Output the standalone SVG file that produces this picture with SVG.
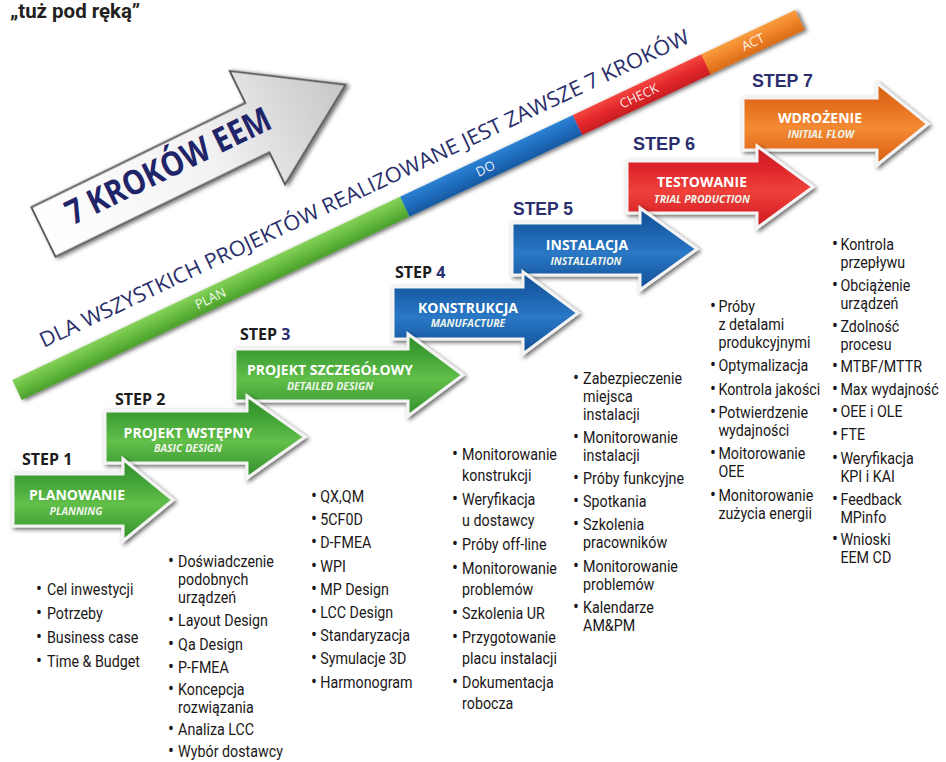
<svg xmlns="http://www.w3.org/2000/svg" width="946" height="762" viewBox="0 0 946 762">
  <defs>
    <style>
      .step-label{font-family:"Open Sans","Liberation Sans",sans-serif;font-weight:700;font-size:16px;fill:#1c1c1c}
      .step-num{fill:#2b2f70}
      .step-label-b{font-family:"Liberation Sans",Arial,sans-serif;font-weight:700;font-size:19px;fill:#2b2f70}
      .title{font-family:"Open Sans","Liberation Sans",sans-serif;font-weight:700;font-size:14px;fill:#ffffff;text-anchor:middle}
      .sub{font-family:"Open Sans","Liberation Sans",sans-serif;font-weight:700;font-style:italic;font-size:10.5px;fill:#eef5ea;text-anchor:middle}
      .list text{font-family:Roboto,"Liberation Sans",sans-serif;font-size:17px;fill:#1a1718}
      .list .b{font-size:21px}
      .bar-label{font-family:"Open Sans","Liberation Sans",sans-serif;font-size:13px;fill:#ffffff;fill-opacity:0.92;text-anchor:middle}
      .step-shape{stroke:#f4f4f4;stroke-width:3;stroke-linejoin:miter;filter:url(#shadow)}
      .headline{font-family:Roboto,"Liberation Sans",sans-serif;font-weight:700;font-size:20px;fill:#231f20}
    </style>
    <filter id="shadow" x="-15%" y="-25%" width="135%" height="160%">
      <feGaussianBlur in="SourceAlpha" stdDeviation="2.2"/>
      <feOffset dx="2" dy="2" result="blur"/>
      <feFlood flood-color="#000000" flood-opacity="0.6"/>
      <feComposite in2="blur" operator="in"/>
      <feMerge><feMergeNode/><feMergeNode in="SourceGraphic"/></feMerge>
    </filter>
    <linearGradient id="g-green" x1="0" y1="0" x2="0" y2="1">
      <stop offset="0" stop-color="#2f8c27"/>
      <stop offset="0.25" stop-color="#3fa135"/>
      <stop offset="0.55" stop-color="#62bf4a"/>
      <stop offset="0.85" stop-color="#41a035"/>
      <stop offset="1" stop-color="#2e8a26"/>
    </linearGradient>
    <linearGradient id="g-blue" x1="0" y1="0" x2="0" y2="1">
      <stop offset="0" stop-color="#134e94"/>
      <stop offset="0.25" stop-color="#1a5fa9"/>
      <stop offset="0.55" stop-color="#2a78c6"/>
      <stop offset="0.85" stop-color="#1a5ca4"/>
      <stop offset="1" stop-color="#144e93"/>
    </linearGradient>
    <linearGradient id="g-red" x1="0" y1="0" x2="0" y2="1">
      <stop offset="0" stop-color="#c81c22"/>
      <stop offset="0.25" stop-color="#dc242a"/>
      <stop offset="0.55" stop-color="#f0413a"/>
      <stop offset="0.85" stop-color="#da2428"/>
      <stop offset="1" stop-color="#c41b21"/>
    </linearGradient>
    <linearGradient id="g-orange" x1="0" y1="0" x2="0" y2="1">
      <stop offset="0" stop-color="#d45f16"/>
      <stop offset="0.25" stop-color="#e36d1c"/>
      <stop offset="0.55" stop-color="#f48a33"/>
      <stop offset="0.85" stop-color="#e26b1b"/>
      <stop offset="1" stop-color="#d05c15"/>
    </linearGradient>
    <linearGradient id="bar-green" x1="0" y1="0" x2="0" y2="1">
      <stop offset="0" stop-color="#86d15a"/>
      <stop offset="0.5" stop-color="#66bc3e"/>
      <stop offset="1" stop-color="#4b9f2d"/>
    </linearGradient>
    <linearGradient id="bar-blue" x1="0" y1="0" x2="0" y2="1">
      <stop offset="0" stop-color="#2c82d2"/>
      <stop offset="0.5" stop-color="#1f6dbe"/>
      <stop offset="1" stop-color="#175aa2"/>
    </linearGradient>
    <linearGradient id="bar-red" x1="0" y1="0" x2="0" y2="1">
      <stop offset="0" stop-color="#f2473f"/>
      <stop offset="0.5" stop-color="#e4272b"/>
      <stop offset="1" stop-color="#c81e22"/>
    </linearGradient>
    <linearGradient id="bar-orange" x1="0" y1="0" x2="0" y2="1">
      <stop offset="0" stop-color="#f89d40"/>
      <stop offset="0.5" stop-color="#ef8328"/>
      <stop offset="1" stop-color="#d96c18"/>
    </linearGradient>
    <linearGradient id="white-arrow" x1="0" y1="0" x2="1" y2="0">
      <stop offset="0" stop-color="#ffffff"/>
      <stop offset="0.55" stop-color="#f2f2f2"/>
      <stop offset="1" stop-color="#c6c6c6"/>
    </linearGradient>
  </defs>

  <rect width="946" height="762" fill="#ffffff"/>

  <text class="headline" x="10" y="18" textLength="130" lengthAdjust="spacingAndGlyphs">„tuż pod ręką”</text>

  <!-- large heading arrow -->
  <g id="heading-arrow" transform="translate(43.5,232) rotate(-26)">
    <path d="M0,-27.5 L238,-27.5 L238,-63 L336,0 L238,63 L238,27.5 L0,27.5 Z" fill="url(#white-arrow)" stroke="#5a5a5a" stroke-width="2" filter="url(#shadow)"/>
    <text x="141" y="7" text-anchor="middle" font-family="'Open Sans','Liberation Sans',sans-serif" font-weight="700" font-size="34" fill="#1f2568" textLength="224" lengthAdjust="spacingAndGlyphs">7 KROKÓW EEM</text>
  </g>

  <!-- PDCA bar with caption -->
  <g id="pdca-bar" transform="translate(17,390) rotate(-25.3)">
    <g filter="url(#shadow)">
      <rect x="0" y="-11" width="430" height="22" fill="url(#bar-green)"/>
      <rect x="429" y="-11" width="192" height="22" fill="url(#bar-blue)"/>
      <rect x="620" y="-11" width="143" height="22" fill="url(#bar-red)"/>
      <rect x="762" y="-11" width="104" height="22" fill="url(#bar-orange)"/>
    </g>
    <text class="bar-label" x="214" y="4.5">PLAN</text>
    <text class="bar-label" x="518" y="4.5">DO</text>
    <text class="bar-label" x="688" y="4.5">CHECK</text>
    <text class="bar-label" x="814" y="4.5">ACT</text>
    <text x="42" y="-26.5" font-family="'Open Sans','Liberation Sans',sans-serif" font-size="21" fill="#2a2f6c" textLength="716" lengthAdjust="spacingAndGlyphs">DLA WSZYSTKICH PROJEKTÓW REALIZOWANE JEST ZAWSZE 7 KROKÓW</text>
  </g>

  <!-- step arrows, later steps drawn first so earlier ones overlap them -->
  <g id="step7">
    <path class="step-shape" d="M743,98 H877 V83 L928,124 L877,165 V150 H743 Z" fill="url(#g-orange)"/>
    <text class="step-label-b" x="752" y="87" textLength="61" lengthAdjust="spacingAndGlyphs">STEP 7</text>
    <text class="title" x="820" y="123">WDROŻENIE</text>
    <text class="sub" x="821" y="138">INITIAL FLOW</text>
  </g>
  <g id="step6">
    <path class="step-shape" d="M627,161 H757 V146 L813,187 L757,228 V213 H627 Z" fill="url(#g-red)"/>
    <text class="step-label-b" x="633" y="150" textLength="62" lengthAdjust="spacingAndGlyphs">STEP 6</text>
    <text class="title" x="702" y="187">TESTOWANIE</text>
    <text class="sub" x="702" y="203">TRIAL PRODUCTION</text>
  </g>
  <g id="step5">
    <path class="step-shape" d="M512,223 H640 V208 L697,249 L640,290 V275 H512 Z" fill="url(#g-blue)"/>
    <text class="step-label-b" x="513" y="215" textLength="60" lengthAdjust="spacingAndGlyphs">STEP 5</text>
    <text class="title" x="587" y="250">INSTALACJA</text>
    <text class="sub" x="586" y="265">INSTALLATION</text>
  </g>
  <g id="step4">
    <path class="step-shape" d="M393,287 H523 V272 L578,313 L523,354 V339 H393 Z" fill="url(#g-blue)"/>
    <text class="step-label" x="395" y="278">STEP <tspan class="step-num">4</tspan></text>
    <text class="title" x="468" y="313">KONSTRUKCJA</text>
    <text class="sub" x="468" y="327">MANUFACTURE</text>
  </g>
  <g id="step3">
    <path class="step-shape" d="M235,349 H408 V334 L463,375 L408,416 V401 H235 Z" fill="url(#g-green)"/>
    <text class="step-label" x="240" y="340">STEP <tspan class="step-num">3</tspan></text>
    <text class="title" x="330" y="375">PROJEKT SZCZEGÓŁOWY</text>
    <text class="sub" x="330" y="390">DETAILED DESIGN</text>
  </g>
  <g id="step2">
    <path class="step-shape" d="M105,411 H247 V396 L305,437 L247,478 V463 H105 Z" fill="url(#g-green)"/>
    <text class="step-label" x="115" y="405">STEP 2</text>
    <text class="title" x="188" y="438">PROJEKT WSTĘPNY</text>
    <text class="sub" x="188" y="452">BASIC DESIGN</text>
  </g>
  <g id="step1">
    <path class="step-shape" d="M13,474 H123 V459 L173,500 L123,541 V526 H13 Z" fill="url(#g-green)"/>
    <text class="step-label" x="22" y="465">STEP 1</text>
    <text class="title" x="77" y="500">PLANOWANIE</text>
    <text class="sub" x="76" y="515">PLANNING</text>
  </g>

  <!-- task lists under each step (condensed lettering) -->
  <g id="tasks-step1" class="list" transform="translate(36,0) scale(0.84,1)">
    <text y="595"><tspan class="b" x="0">•</tspan><tspan x="13">Cel inwestycji</tspan></text>
    <text y="619"><tspan class="b" x="0">•</tspan><tspan x="13">Potrzeby</tspan></text>
    <text y="643"><tspan class="b" x="0">•</tspan><tspan x="13">Business case</tspan></text>
    <text y="667"><tspan class="b" x="0">•</tspan><tspan x="13">Time &amp; Budget</tspan></text>
  </g>
  <g id="tasks-step2" class="list" transform="translate(168,0) scale(0.84,1)">
    <text y="567"><tspan class="b" x="0">•</tspan><tspan x="12">Doświadczenie</tspan></text>
    <text y="585" x="12">podobnych</text>
    <text y="603" x="12">urządzeń</text>
    <text y="626"><tspan class="b" x="0">•</tspan><tspan x="12">Layout Design</tspan></text>
    <text y="650"><tspan class="b" x="0">•</tspan><tspan x="12">Qa Design</tspan></text>
    <text y="673"><tspan class="b" x="0">•</tspan><tspan x="12">P-FMEA</tspan></text>
    <text y="695"><tspan class="b" x="0">•</tspan><tspan x="12">Koncepcja</tspan></text>
    <text y="713" x="12">rozwiązania</text>
    <text y="735"><tspan class="b" x="0">•</tspan><tspan x="12">Analiza LCC</tspan></text>
    <text y="757"><tspan class="b" x="0">•</tspan><tspan x="12">Wybór dostawcy</tspan></text>
  </g>
  <g id="tasks-step3" class="list" transform="translate(311,0) scale(0.84,1)">
    <text y="502"><tspan class="b" x="0">•</tspan><tspan x="11">QX,QM</tspan></text>
    <text y="525"><tspan class="b" x="0">•</tspan><tspan x="11">5CF0D</tspan></text>
    <text y="548"><tspan class="b" x="0">•</tspan><tspan x="11">D-FMEA</tspan></text>
    <text y="572"><tspan class="b" x="0">•</tspan><tspan x="11">WPI</tspan></text>
    <text y="595"><tspan class="b" x="0">•</tspan><tspan x="11">MP Design</tspan></text>
    <text y="618"><tspan class="b" x="0">•</tspan><tspan x="11">LCC Design</tspan></text>
    <text y="641"><tspan class="b" x="0">•</tspan><tspan x="11">Standaryzacja</tspan></text>
    <text y="664"><tspan class="b" x="0">•</tspan><tspan x="11">Symulacje 3D</tspan></text>
    <text y="688"><tspan class="b" x="0">•</tspan><tspan x="11">Harmonogram</tspan></text>
  </g>
  <g id="tasks-step4" class="list" transform="translate(452,0) scale(0.84,1)">
    <text y="460"><tspan class="b" x="0">•</tspan><tspan x="12">Monitorowanie</tspan></text>
    <text y="481" x="12">konstrukcji</text>
    <text y="505"><tspan class="b" x="0">•</tspan><tspan x="12">Weryfikacja</tspan></text>
    <text y="526" x="12">u dostawcy</text>
    <text y="550"><tspan class="b" x="0">•</tspan><tspan x="12">Próby off-line</tspan></text>
    <text y="574"><tspan class="b" x="0">•</tspan><tspan x="12">Monitorowanie</tspan></text>
    <text y="595" x="12">problemów</text>
    <text y="619"><tspan class="b" x="0">•</tspan><tspan x="12">Szkolenia UR</tspan></text>
    <text y="643"><tspan class="b" x="0">•</tspan><tspan x="12">Przygotowanie</tspan></text>
    <text y="664" x="12">placu instalacji</text>
    <text y="688"><tspan class="b" x="0">•</tspan><tspan x="12">Dokumentacja</tspan></text>
    <text y="709" x="12">robocza</text>
  </g>
  <g id="tasks-step5" class="list" transform="translate(573,0) scale(0.84,1)">
    <text y="384"><tspan class="b" x="0">•</tspan><tspan x="12">Zabezpieczenie</tspan></text>
    <text y="402" x="12">miejsca</text>
    <text y="420" x="12">instalacji</text>
    <text y="443"><tspan class="b" x="0">•</tspan><tspan x="12">Monitorowanie</tspan></text>
    <text y="461" x="12">instalacji</text>
    <text y="484"><tspan class="b" x="0">•</tspan><tspan x="12">Próby funkcyjne</tspan></text>
    <text y="507"><tspan class="b" x="0">•</tspan><tspan x="12">Spotkania</tspan></text>
    <text y="530"><tspan class="b" x="0">•</tspan><tspan x="12">Szkolenia</tspan></text>
    <text y="548" x="12">pracowników</text>
    <text y="572"><tspan class="b" x="0">•</tspan><tspan x="12">Monitorowanie</tspan></text>
    <text y="590" x="12">problemów</text>
    <text y="613"><tspan class="b" x="0">•</tspan><tspan x="12">Kalendarze</tspan></text>
    <text y="631" x="12">AM&amp;PM</text>
  </g>
  <g id="tasks-step6" class="list" transform="translate(710,0) scale(0.84,1)">
    <text y="312"><tspan class="b" x="0">•</tspan><tspan x="10">Próby</tspan></text>
    <text y="330" x="10">z detalami</text>
    <text y="348" x="10">produkcyjnymi</text>
    <text y="371"><tspan class="b" x="0">•</tspan><tspan x="10">Optymalizacja</tspan></text>
    <text y="395"><tspan class="b" x="0">•</tspan><tspan x="10">Kontrola jakości</tspan></text>
    <text y="418"><tspan class="b" x="0">•</tspan><tspan x="10">Potwierdzenie</tspan></text>
    <text y="436" x="10">wydajności</text>
    <text y="459"><tspan class="b" x="0">•</tspan><tspan x="10">Moitorowanie</tspan></text>
    <text y="477" x="10">OEE</text>
    <text y="501"><tspan class="b" x="0">•</tspan><tspan x="10">Monitorowanie</tspan></text>
    <text y="519" x="10">zużycia energii</text>
  </g>
  <g id="tasks-step7" class="list" transform="translate(832,0) scale(0.84,1)">
    <text y="250"><tspan class="b" x="0">•</tspan><tspan x="10">Kontrola</tspan></text>
    <text y="268" x="10">przepływu</text>
    <text y="291"><tspan class="b" x="0">•</tspan><tspan x="10">Obciążenie</tspan></text>
    <text y="309" x="10">urządzeń</text>
    <text y="332"><tspan class="b" x="0">•</tspan><tspan x="10">Zdolność</tspan></text>
    <text y="350" x="10">procesu</text>
    <text y="372"><tspan class="b" x="0">•</tspan><tspan x="10">MTBF/MTTR</tspan></text>
    <text y="395"><tspan class="b" x="0">•</tspan><tspan x="10">Max wydajność</tspan></text>
    <text y="417"><tspan class="b" x="0">•</tspan><tspan x="10">OEE i OLE</tspan></text>
    <text y="440"><tspan class="b" x="0">•</tspan><tspan x="10">FTE</tspan></text>
    <text y="464"><tspan class="b" x="0">•</tspan><tspan x="10">Weryfikacja</tspan></text>
    <text y="482" x="10">KPI i KAI</text>
    <text y="505"><tspan class="b" x="0">•</tspan><tspan x="10">Feedback</tspan></text>
    <text y="523" x="10">MPinfo</text>
    <text y="545"><tspan class="b" x="0">•</tspan><tspan x="10">Wnioski</tspan></text>
    <text y="563" x="10">EEM CD</text>
  </g>
</svg>
